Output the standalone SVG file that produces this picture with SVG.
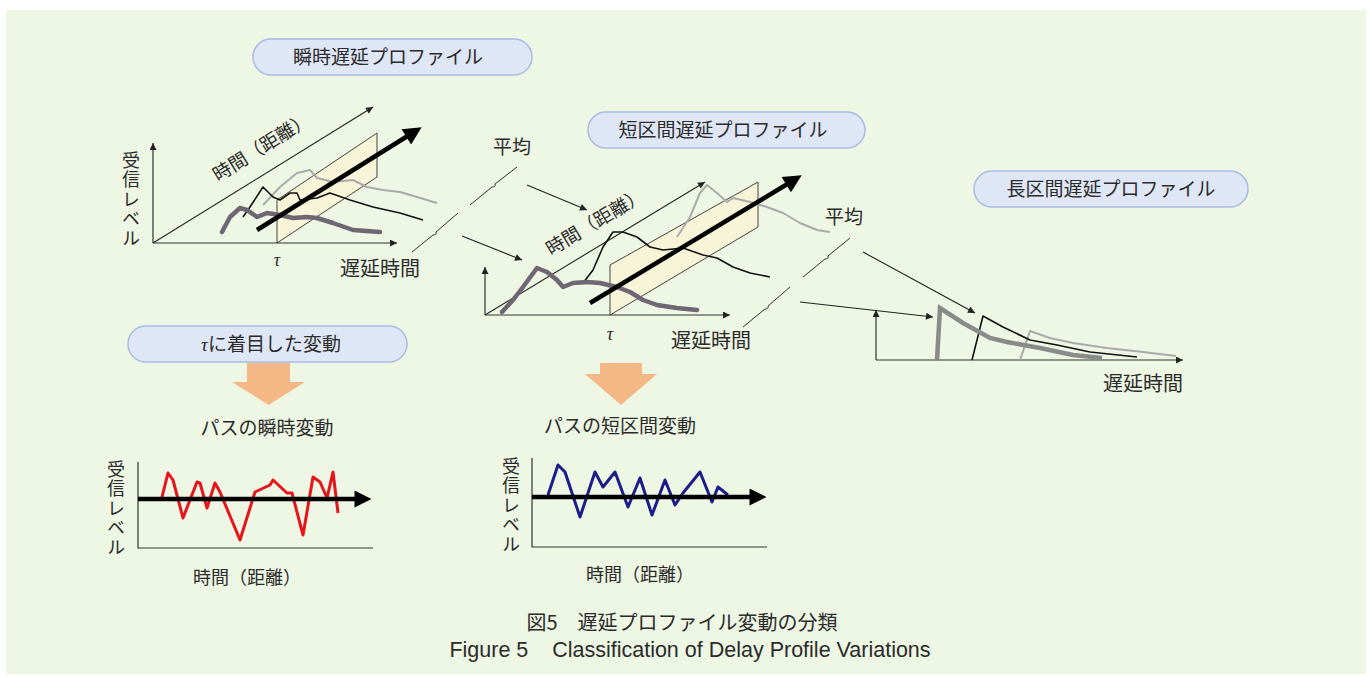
<svg xmlns="http://www.w3.org/2000/svg" width="1369" height="677" viewBox="0 0 1369 677">
<style>
.t{font-family:"Noto Sans CJK JP","Noto Sans",sans-serif;fill:#2b2b2b;}
.v{font-family:"Noto Sans CJK JP","Noto Sans",sans-serif;fill:#2b2b2b;font-size:18px;writing-mode:vertical-rl;text-orientation:upright;letter-spacing:1.5px;}
.pill{fill:#dfe6f6;stroke:#a9bbe3;stroke-width:1.5;}
.ax{stroke:#333;stroke-width:1.2;fill:none;}
.thin{stroke:#222;stroke-width:1.1;fill:none;}
.brk{stroke:#333;stroke-width:1;fill:none;}
.panel{fill:#f8f4d8;stroke:#444;stroke-width:1;}
.lg{stroke:#aaaaaa;stroke-width:2;fill:none;stroke-linejoin:round;}
.bk{stroke:#111;stroke-width:1.6;fill:none;stroke-linejoin:round;}
.tk{stroke:#6e6673;stroke-width:4.5;fill:none;stroke-linejoin:round;stroke-linecap:round;}
.tkr{stroke:#8a8a8a;stroke-width:4.5;fill:none;stroke-linejoin:miter;}
.big{stroke:#000;stroke-width:4.5;fill:none;}
.orange{fill:#f4b887;}
.tau{font-family:"Liberation Serif",serif;font-style:italic;fill:#2b2b2b;}
</style>
<defs>
<marker id="a" viewBox="0 0 10 10" refX="10" refY="5" markerWidth="11" markerHeight="7" markerUnits="userSpaceOnUse" orient="auto"><path d="M0,0 L10,5 L0,10 Z" fill="#222"/></marker>
<marker id="ab" viewBox="0 0 10 10" refX="5" refY="5" markerWidth="26" markerHeight="18" markerUnits="userSpaceOnUse" orient="auto"><path d="M0,0 L10,5 L0,10 Z" fill="#000"/></marker>
<marker id="ah" viewBox="0 0 10 10" refX="5" refY="5" markerWidth="30" markerHeight="17" markerUnits="userSpaceOnUse" orient="auto"><path d="M0,0 L10,5 L0,10 Z" fill="#000"/></marker>
</defs>
<rect x="0" y="0" width="1369" height="677" fill="#ffffff"/>
<rect x="6" y="10" width="1360" height="664" fill="#eef6e4"/>

<!-- Top-left chart: instantaneous delay profile -->
<g id="instant-profile">
<rect class="pill" x="253" y="39" width="279" height="36" rx="18"/>
<text class="t" x="388" y="64" font-size="19" text-anchor="middle">瞬時遅延プロファイル</text>
<polygon class="panel" points="277,243 277,200 377,133 377,177"/>
<line class="ax" x1="153" y1="243" x2="153" y2="143" marker-end="url(#a)"/>
<line class="ax" x1="153" y1="243" x2="397" y2="243" marker-end="url(#a)"/>
<line class="thin" x1="153" y1="243" x2="373" y2="107" marker-end="url(#a)"/>
<polyline class="lg" points="263,205 280,187 297,173 310,170 317,178 333,182 353,180 367,187 383,190 400,192 417,197 437,203"/>
<polyline class="bk" points="243,217 250,207 263,187 273,197 280,200 290,193 297,193 300,200 317,198 330,193 350,200 373,207 400,213 423,220"/>
<polyline class="tk" points="222,232 230,217 240,208 247,210 257,217 267,213 280,215 293,218 307,217 317,218 333,223 353,230 380,232"/>
<line class="big" x1="257" y1="230" x2="414" y2="132" marker-end="url(#ab)"/>
<text class="v" x="131" y="151">受信レベル</text>
<text class="t" x="218" y="182" font-size="18.5" transform="rotate(-32 218 182)">時間（距離）</text>
<text class="tau" x="277" y="266" font-size="18" text-anchor="middle">τ</text>
<text class="t" x="380" y="276" font-size="20" text-anchor="middle">遅延時間</text>
</g>

<!-- Middle chart: short-interval delay profile -->
<g id="short-profile">
<rect class="pill" x="588" y="112" width="277" height="36" rx="18"/>
<text class="t" x="723" y="137" font-size="19" text-anchor="middle">短区間遅延プロファイル</text>
<polygon class="panel" points="610,315 610,265 758,182 758,227"/>
<line class="ax" x1="485" y1="315" x2="485" y2="267" marker-end="url(#a)"/>
<line class="ax" x1="485" y1="315" x2="730" y2="315" marker-end="url(#a)"/>
<line class="thin" x1="485" y1="315" x2="705" y2="182" marker-end="url(#a)"/>
<polyline class="lg" points="677,237 690,217 700,193 707,185 717,193 727,202 733,198 750,202 767,207 783,213 800,223 817,230 830,232"/>
<polyline class="bk" points="583,283 593,270 603,247 613,232 623,232 637,237 650,247 663,250 683,248 703,255 717,258 733,267 750,273 770,277"/>
<polyline class="tk" points="502,312 513,300 523,287 537,268 547,272 557,280 563,287 573,283 587,282 600,283 617,287 630,292 643,300 657,305 677,308 697,310"/>
<line class="big" x1="590" y1="303" x2="794" y2="180" marker-end="url(#ab)"/>
<text class="t" x="551" y="256" font-size="18.5" transform="rotate(-31 551 256)">時間（距離）</text>
<text class="tau" x="610" y="340" font-size="18" text-anchor="middle">τ</text>
<text class="t" x="711" y="348" font-size="20" text-anchor="middle">遅延時間</text>
</g>

<!-- Right chart: long-interval delay profile -->
<g id="long-profile">
<rect class="pill" x="974" y="171" width="274" height="36" rx="18"/>
<text class="t" x="1111" y="196" font-size="19" text-anchor="middle">長区間遅延プロファイル</text>
<line class="ax" x1="876" y1="360" x2="876" y2="310" marker-end="url(#a)"/>
<line class="ax" x1="876" y1="360" x2="1183" y2="360" marker-end="url(#a)"/>
<polyline class="lg" points="1020,360 1030,331 1050,338 1073,343 1107,348 1143,352 1176,356"/>
<polyline class="bk" points="972,360 983,316 1003,327 1030,340 1057,345 1090,352 1137,357"/>
<polyline class="tkr" points="937,360 940,308 963,323 990,338 1007,342 1040,348 1073,355 1102,358"/>
<text class="t" x="1143" y="391" font-size="20" text-anchor="middle">遅延時間</text>
</g>

<!-- Averaging labels -->
<g id="average-1">
<text class="t" x="512" y="154" font-size="19" text-anchor="middle">平均</text>
</g>
<g id="average-2">
<text class="t" x="844" y="224" font-size="19" text-anchor="middle">平均</text>
</g>

<!-- Focus label and block arrows -->
<g id="tau-focus">
<rect class="pill" x="128" y="326" width="279" height="36" rx="18"/>
<text class="t" x="271" y="351" font-size="19" text-anchor="middle"><tspan class="tau" font-size="19">τ</tspan>に着目した変動</text>
</g>
<g id="down-arrow-1"><polygon class="orange" points="247,363 290,363 290,382 305,382 268.5,405 232,382 247,382"/></g>
<g id="down-arrow-2"><polygon class="orange" points="600,363 642,363 642,374 657,374 621,405 585,374 600,374"/></g>

<!-- Bottom-left: instantaneous path variation -->
<g id="instant-variation">
<text class="t" x="267" y="435" font-size="19" text-anchor="middle">パスの瞬時変動</text>
<polyline class="ax" points="138,462 138,548 373,548"/>
<polyline fill="none" stroke="#e8141c" stroke-width="3" stroke-linejoin="round" points="162,497 168,473 173,480 183,518 197,482 200,483 207,508 215,483 220,492 240,540 255,492 270,485 273,480 287,493 292,493 303,535 313,477 320,482 327,498 333,472 338,513"/>
<line class="big" x1="138" y1="499" x2="363" y2="499" marker-end="url(#ah)"/>
<text class="v" x="116" y="460">受信レベル</text>
<text class="t" x="247" y="584" font-size="18" text-anchor="middle">時間（距離）</text>
</g>

<!-- Bottom-middle: short-interval path variation -->
<g id="short-variation">
<text class="t" x="620" y="433" font-size="19" text-anchor="middle">パスの短区間変動</text>
<polyline class="ax" points="532,458 532,547 767,547"/>
<polyline fill="none" stroke="#1c1c8a" stroke-width="3" stroke-linejoin="round" points="548,495 558,465 565,472 580,517 595,472 603,487 615,472 628,507 640,478 652,515 665,480 675,505 683,493 700,472 712,502 718,487 728,495"/>
<line class="big" x1="532" y1="497" x2="758" y2="497" marker-end="url(#ah)"/>
<text class="v" x="511" y="457">受信レベル</text>
<text class="t" x="640" y="581" font-size="18" text-anchor="middle">時間（距離）</text>
</g>

<!-- Connectors: averaging arrows and break marks -->
<g id="connectors">
<line class="thin" x1="527" y1="185" x2="587" y2="210" marker-end="url(#a)"/>
<line class="thin" x1="462" y1="236" x2="522" y2="260" marker-end="url(#a)"/>
<line class="thin" x1="863" y1="252" x2="975" y2="313" marker-end="url(#a)"/>
<line class="thin" x1="800" y1="302" x2="933" y2="317" marker-end="url(#a)"/>
<path class="brk" d="M412,252 L433,235 q4,0 3,-3 L458,213"/>
<path class="brk" d="M470,205 L492,187 q4,0 3,-3 L517,167"/>
<path class="brk" d="M743,327 L765,309 q4,0 3,-3 L790,287"/>
<path class="brk" d="M803,277 L825,259 q4,0 3,-3 L850,238"/>
</g>

<!-- Caption -->
<g id="caption">
<text class="t" x="682" y="630" font-size="20" text-anchor="middle" xml:space="preserve">図5　遅延プロファイル変動の分類</text>
<text x="690" y="657" font-size="21.5" text-anchor="middle" font-family="Liberation Sans, Arial, sans-serif" fill="#2b2b2b" xml:space="preserve">Figure 5    Classification of Delay Profile Variations</text>
</g>
</svg>
